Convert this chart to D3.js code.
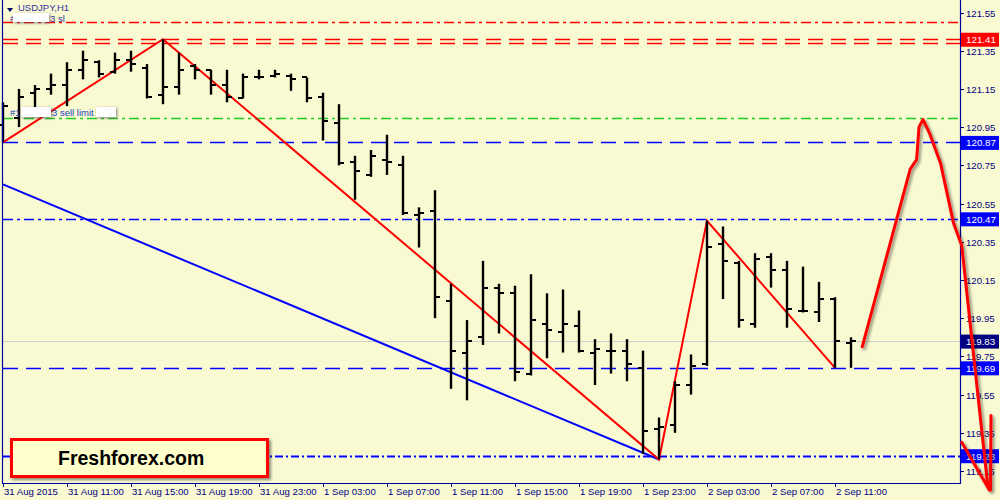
<!DOCTYPE html>
<html><head><meta charset="utf-8">
<script src="https://cdn.jsdelivr.net/npm/d3@7"></script>
<style>
html,body{margin:0;padding:0;background:#fafad2;}
svg{display:block;}
</style></head>
<body>
<svg id="c" width="1000" height="500"></svg>
<script>
// ---------- DATA ----------
const barOpen  = [120.96,121.00,121.13,121.15,121.17,121.25,121.29,121.24,121.30,121.26,121.12,121.16,121.27,121.25,121.17,121.10,121.21,121.22,121.22,121.21,121.11,120.97,120.77,120.70,120.78,120.75,120.49,120.51,120.04,119.77,119.85,120.11,120.08,119.66,119.92,119.88,119.91,119.77,119.78,119.78,119.69,119.37,119.39,119.60,119.71,120.34,120.24,119.92,120.27,120.20,119.99,119.98,120.05,119.82];
const barHigh  = [121.08,121.15,121.17,121.23,121.29,121.35,121.30,121.34,121.35,121.28,121.41,121.34,121.28,121.25,121.25,121.23,121.25,121.25,121.23,121.21,121.13,121.07,120.80,120.83,120.91,120.80,120.53,120.62,120.13,119.94,120.25,120.13,120.12,120.18,120.08,120.10,119.99,119.84,119.87,119.84,119.78,119.43,119.62,119.76,120.46,120.43,120.25,120.29,120.29,120.25,120.22,120.14,120.06,119.85];
const barLow   = [120.87,120.95,121.04,121.12,121.06,121.20,121.21,121.23,121.24,121.10,121.07,121.12,121.20,121.12,121.08,121.10,121.20,121.21,121.14,121.08,120.88,120.75,120.57,120.69,120.70,120.49,120.32,119.95,119.58,119.52,119.81,119.87,119.62,119.65,119.74,119.77,119.77,119.60,119.66,119.62,119.24,119.21,119.35,119.55,119.70,120.05,119.90,119.90,120.11,119.90,119.98,119.93,119.69,119.69];
const barClose = [121.06,121.11,121.15,121.17,121.25,121.30,121.23,121.30,121.28,121.11,121.16,121.25,121.25,121.17,121.11,121.21,121.21,121.23,121.20,121.10,120.98,120.76,120.72,120.80,120.77,120.50,120.50,120.06,119.78,119.83,120.11,120.08,119.67,119.94,119.89,119.92,119.78,119.79,119.78,119.71,119.36,119.38,119.60,119.70,120.32,120.25,119.94,120.26,120.20,120.00,119.99,120.05,119.83,119.83];

const xTickBars   = [0,4,8,12,16,20,24,28,32,36,40,44,48,52];
const xTickLabels = ["31 Aug 2015","31 Aug 11:00","31 Aug 15:00","31 Aug 19:00","31 Aug 23:00","1 Sep 03:00","1 Sep 07:00","1 Sep 11:00","1 Sep 15:00","1 Sep 19:00","1 Sep 23:00","2 Sep 03:00","2 Sep 07:00","2 Sep 11:00"];
const yTicks = [121.55,121.35,121.15,120.95,120.75,120.55,120.35,120.15,119.95,119.75,119.55,119.35,119.15];

// horizontal levels
const levelPrice = [121.50,121.41,121.39,121.00,120.87,120.47,119.69,119.23];
const levelColor = ["#ff0000","#ff0000","#ff0000","#22cc22","#0000ff","#0000ff","#0000ff","#0000ff"];
const levelStyle = ["dashdot","dash","dash","dashdot","dash","dashdot","dash","dashdot2"];
// right-axis price boxes
const boxPrice = [121.41,120.87,120.47,119.83,119.69,119.23];
const boxFill  = ["#ff0000","#0000ff","#0000ff","#000080","#0000ff","#0000ff"];
const bidPrice = 119.83;

// zigzag (bar index, which extreme)
const zigBars  = [0,10,41,44,52];
const zigKind  = ["low","high","low","high","low"];
// trendline (bar index, price)
const trendBars  = [0,41];
const trendPrice = [120.65,119.21];
// hand-drawn forecast arrow (bar index, price)
const arrowBars  = [53.7,56.7,57.1,57.25,57.5,57.9,58.6,59.4,59.92,61.55];
const arrowPrice = [119.80,120.73,120.78,120.95,120.99,120.92,120.76,120.45,120.33,119.07];
const headLeftBars  = [59.92,61.65];
const headLeftPrice = [119.30,119.05];
const headRightBars  = [61.75,61.72];
const headRightPrice = [119.44,119.05];

// ---------- CHART ----------
const svg = d3.select("#c");
const W = 1000, H = 500;
const plotL = 3, plotR = 960, plotB = 483;

const x = d3.scaleLinear().domain([0,53]).range([3,851]);
const y = d3.scaleLinear().domain([119.15,121.55]).range([471,12.5]);

const defs = svg.append("defs");
const sh = defs.append("filter").attr("id","shadow").attr("x","-20%").attr("y","-20%").attr("width","150%").attr("height","150%");
sh.append("feDropShadow").attr("dx",2).attr("dy",2).attr("stdDeviation",1.5).attr("flood-color","#000").attr("flood-opacity",0.45);
const blur = defs.append("filter").attr("id","blur").attr("x","-30%").attr("y","-60%").attr("width","160%").attr("height","220%");
blur.append("feDropShadow").attr("dx",1).attr("dy",1).attr("stdDeviation",1.5).attr("flood-color","#555").attr("flood-opacity",0.7);

svg.append("rect").attr("width",W).attr("height",H).attr("fill","#fafad2");

// level lines
const dashes = {dash:"15,8", dashdot:"10,4,3,4", dashdot2:"8,3,2,3"};
levelPrice.forEach((p,i)=>{
  svg.append("line").attr("x1",plotL).attr("x2",plotR)
    .attr("y1",Math.round(y(p))+0.5).attr("y2",Math.round(y(p))+0.5)
    .attr("stroke",levelColor[i]).attr("stroke-width", levelStyle[i]==="dashdot2"?2:1.3)
    .attr("stroke-dasharray",dashes[levelStyle[i]]);
});
// bid line
svg.append("line").attr("x1",plotL).attr("x2",plotR)
  .attr("y1",Math.round(y(bidPrice))+0.5).attr("y2",Math.round(y(bidPrice))+0.5)
  .attr("stroke","#cfcfcf").attr("stroke-width",1);

// trendline blue
svg.append("line")
  .attr("x1",x(trendBars[0])).attr("y1",y(trendPrice[0]))
  .attr("x2",x(trendBars[1])).attr("y2",y(trendPrice[1]))
  .attr("stroke","#0000ff").attr("stroke-width",2);

// zigzag red
const zigPts = zigBars.map((b,i)=>[x(b), y(zigKind[i]==="low"?barLow[b]:barHigh[b])]);
svg.append("path").attr("d",d3.line()(zigPts)).attr("fill","none").attr("stroke","#ff0000").attr("stroke-width",2);

// OHLC bars
const bars = svg.append("g").attr("stroke","#000");
barOpen.forEach((o,i)=>{
  const cx = Math.round(x(i));
  bars.append("line").attr("x1",cx).attr("x2",cx).attr("y1",y(barHigh[i])).attr("y2",y(barLow[i])).attr("stroke-width",2.4);
  bars.append("line").attr("x1",cx-5).attr("x2",cx).attr("y1",Math.round(y(o))).attr("y2",Math.round(y(o))).attr("stroke-width",2);
  bars.append("line").attr("x1",cx).attr("x2",cx+5).attr("y1",Math.round(y(barClose[i]))).attr("y2",Math.round(y(barClose[i]))).attr("stroke-width",2);
});

// frame
svg.append("line").attr("x1",plotL-0.5).attr("x2",plotL-0.5).attr("y1",0).attr("y2",plotB).attr("stroke","#0000a0").attr("stroke-width",1.2);
svg.append("line").attr("x1",plotR+0.5).attr("x2",plotR+0.5).attr("y1",0).attr("y2",plotB).attr("stroke","#0000a0").attr("stroke-width",1.2);
svg.append("line").attr("x1",plotL-1).attr("x2",plotR+1).attr("y1",plotB+0.5).attr("y2",plotB+0.5).attr("stroke","#0000a0").attr("stroke-width",1.2);

// y axis ticks/labels
const font = "'Liberation Sans', Arial, sans-serif";
yTicks.forEach(t=>{
  const yy = Math.round(y(t))+0.5;
  svg.append("line").attr("x1",plotR).attr("x2",plotR+4).attr("y1",yy).attr("y2",yy).attr("stroke","#000080");
  svg.append("text").attr("x",966).attr("y",yy+3.5).attr("font-family",font).attr("font-size","9.6px")
    .attr("fill","#000080").text(t.toFixed(2));
});
// x axis ticks/labels
xTickBars.forEach((b,i)=>{
  const xx = Math.round(x(b))+0.5;
  svg.append("line").attr("x1",xx).attr("x2",xx).attr("y1",plotB).attr("y2",plotB+4).attr("stroke","#000080");
  svg.append("text").attr("x",xx+0.5).attr("y",495).attr("font-family",font).attr("font-size","9.6px")
    .attr("fill","#000080").text(xTickLabels[i]);
});

// price boxes
boxPrice.forEach((p,i)=>{
  const yy = y(p);
  svg.append("rect").attr("x",961).attr("y",yy-6.5).attr("width",38).attr("height",14).attr("fill",boxFill[i]);
  svg.append("text").attr("x",966).attr("y",yy+4).attr("font-family",font).attr("font-size","9.8px")
    .attr("fill","#ffffff").text(p.toFixed(2));
});

// top-left labels
svg.append("path").attr("d","M7,8 L13,8 L10,12 Z").attr("fill","#000060");
svg.append("text").attr("x",18).attr("y",10.5).attr("font-family",font).attr("font-size","9.5px").attr("fill","#3030a0").text("USDJPY,H1");
svg.append("text").attr("x",10).attr("y",21.5).attr("font-family",font).attr("font-size","9.5px").attr("fill","#3030a0").text("#1");
svg.append("rect").attr("x",13).attr("y",13).attr("width",36).attr("height",9).attr("fill","#fff").attr("filter","url(#blur)");
svg.append("text").attr("x",50).attr("y",21.5).attr("font-family",font).attr("font-size","9.5px").attr("fill","#3030a0").text("3 sl");

svg.append("text").attr("x",10).attr("y",116).attr("font-family",font).attr("font-size","9.5px").attr("fill","#2040c0").text("#1");
svg.append("rect").attr("x",21).attr("y",107).attr("width",30).attr("height",10).attr("fill","#fff").attr("filter","url(#blur)");
svg.append("text").attr("x",52).attr("y",116).attr("font-family",font).attr("font-size","9.5px").attr("fill","#2040c0").text("3 sell limit");
svg.append("rect").attr("x",96).attr("y",107).attr("width",20).attr("height",10).attr("fill","#fff").attr("filter","url(#blur)");

// forecast arrow
const arrowG = svg.append("g").attr("filter","url(#shadow)").attr("fill","none").attr("stroke","#ff0000").attr("stroke-width",3).attr("stroke-linejoin","round").attr("stroke-linecap","round");
arrowG.append("path").attr("d",d3.line()(arrowBars.map((b,i)=>[x(b),y(arrowPrice[i])])));
arrowG.append("path").attr("d",d3.line()(headLeftBars.map((b,i)=>[x(b),y(headLeftPrice[i])])));
arrowG.append("path").attr("d",d3.line()(headRightBars.map((b,i)=>[x(b),y(headRightPrice[i])])));

// logo box
svg.append("rect").attr("x",11.5).attr("y",439.5).attr("width",256).attr("height",37)
  .attr("fill","#ffffcc").attr("stroke","#ff0000").attr("stroke-width",3).attr("filter","url(#shadow)");
svg.append("text").attr("x",58).attr("y",465).attr("font-family",font).attr("font-weight","bold")
  .attr("font-size","19.5px").attr("fill","#000").text("Freshforex.com");
</script>
</body></html>
